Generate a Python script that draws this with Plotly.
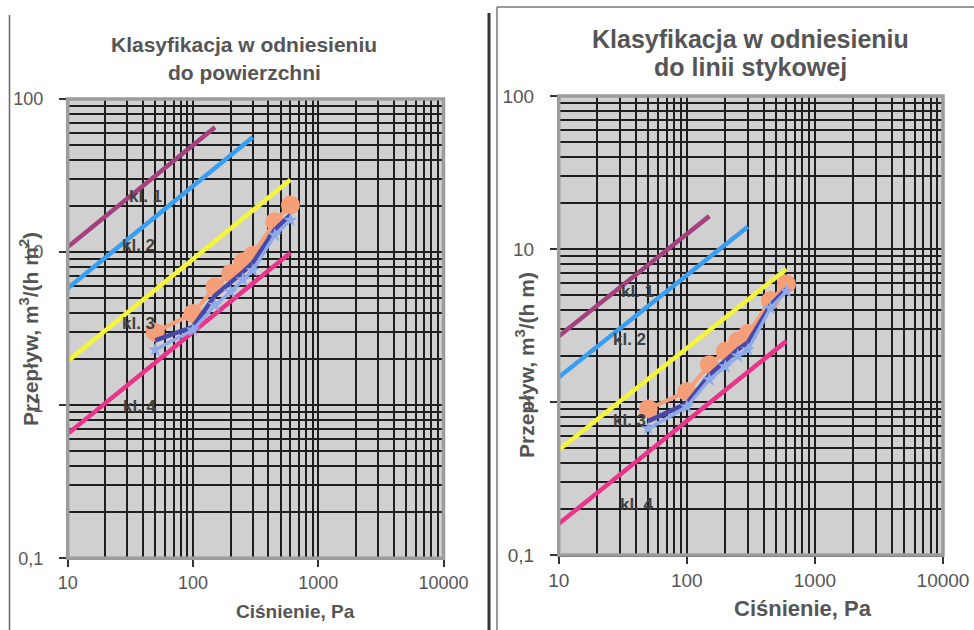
import math
import plotly.graph_objects as go

# ---------------- data ----------------
pressure = [50, 100, 150, 200, 250, 300, 450, 600]

# left chart: per area (m3/(h m2))
left_orange = [3.0, 3.97, 5.93, 7.26, 8.64, 9.55, 15.8, 20.3]
left_dark = [2.65, 3.25, 5.2, 6.3, 7.4, 8.5, 14.0, 17.5]
left_light = [2.3, 3.1, 4.5, 5.5, 6.6, 7.6, 12.9, 16.2]

# right chart: per joint length (m3/(h m))
right_orange = [0.9, 1.17, 1.75, 2.15, 2.5, 2.8, 4.6, 5.9]
right_dark = [0.75, 0.98, 1.5, 1.85, 2.2, 2.45, 4.3, 5.5]
right_light = [0.67, 0.93, 1.4, 1.7, 2.0, 2.2, 4.1, 5.3]

# class limit lines (end points)
class_names = ["kl. 1", "kl. 2", "kl. 3", "kl. 4"]
class_p = [[10, 150], [10, 300], [10, 600], [10, 600]]
left_class_q = [[10.8, 65.5], [5.8, 56.2], [1.94, 29.7], [0.65, 9.9]]
right_class_q = [[2.69, 16.4], [1.45, 14.0], [0.485, 7.4], [0.16, 2.5]]
class_colors = ["#A3407E", "#3A9EF0", "#F5F53A", "#E8348A"]

# label anchor positions (data units)
left_label_pos = [(41.5, 23.0), (36.5, 11.0), (36.5, 3.4), (37.9, 0.98)]
right_label_pos = [(41, 5.3), (36, 2.55), (36, 0.76), (41, 0.215)]

x_tickvals = [10, 100, 1000, 10000]
x_ticktext = ["10", "100", "1000", "10000"]
y_tickvals = [0.1, 1, 10, 100]
y_ticktext = ["0,1", "1", "10", "100"]
x_minor = [m * 10 ** e for e in range(1, 4) for m in range(2, 10)]
y_minor = [m * 10 ** e for e in range(-1, 2) for m in range(2, 10)]

titles_left = ["Klasyfikacja w odniesieniu", "do powierzchni"]
titles_right = ["Klasyfikacja w odniesieniu", "do linii stykowej"]
x_title = "Ciśnienie, Pa"
y_titles = ["Przepływ, m<sup>3</sup>/(h m<sup>2</sup>)",
            "Przepływ, m<sup>3</sup>/(h m)"]

FONT = "Liberation Sans, Arial, sans-serif"
W, H = 974, 630

fig = go.Figure()

def add_panel(xa, ya, class_q, orange, dark, light):
    for p, q, c in zip(class_p, class_q, class_colors):
        fig.add_trace(go.Scatter(x=p, y=q, mode="lines", xaxis=xa, yaxis=ya,
                                 line=dict(color=c, width=4.5), showlegend=False,
                                 hoverinfo="skip"))
    fig.add_trace(go.Scatter(x=pressure, y=orange, mode="lines+markers", xaxis=xa, yaxis=ya,
                             line=dict(color="#F59F78", width=4),
                             marker=dict(symbol="circle", size=19, color="#F59F78"),
                             showlegend=False))
    fig.add_trace(go.Scatter(x=pressure, y=dark, mode="lines", xaxis=xa, yaxis=ya,
                             line=dict(color="#4848A8", width=4.5), showlegend=False))
    fig.add_trace(go.Scatter(x=pressure, y=light, mode="lines+markers", xaxis=xa, yaxis=ya,
                             line=dict(color="#8EAAE8", width=3.5),
                             marker=dict(symbol="star", size=11, color="#8EAAE8"),
                             showlegend=False))

add_panel("x", "y", left_class_q, left_orange, left_dark, left_light)
add_panel("x2", "y2", right_class_q, right_orange, right_dark, right_light)

def px_x(v):
    return v / W

def px_y(v):
    return 1 - v / H

grid_col = "#1e1e1e"

def xaxis_cfg(x0, x1, anchor, fsize):
    return dict(type="log", range=[1, 4], domain=[px_x(x0), px_x(x1)], anchor=anchor,
                automargin=False,
                tickvals=x_tickvals, ticktext=x_ticktext, ticks="outside", ticklen=7,
                tickcolor="#333", tickwidth=1.5,
                showgrid=True, gridcolor=grid_col, gridwidth=1.8,
                minor=dict(tickvals=x_minor, showgrid=True, gridcolor=grid_col,
                           gridwidth=1.8, ticks=""),
                showline=True, linecolor="#333", linewidth=1.5,
                tickfont=dict(family=FONT, size=fsize, color="#555"),
                zeroline=False, fixedrange=True)

def yaxis_cfg(y_top, y_bot, anchor, fsize):
    return dict(type="log", range=[-1, 2], domain=[px_y(y_bot), px_y(y_top)], anchor=anchor,
                automargin=False,
                tickvals=y_tickvals, ticktext=y_ticktext, ticks="outside", ticklen=7,
                tickcolor="#333", tickwidth=1.5, ticklabelstandoff=12,
                showgrid=True, gridcolor=grid_col, gridwidth=1.8,
                minor=dict(tickvals=y_minor, showgrid=True, gridcolor=grid_col,
                           gridwidth=1.8, ticks=""),
                showline=True, linecolor="#333", linewidth=1.5,
                tickfont=dict(family=FONT, size=fsize, color="#555"),
                zeroline=False, fixedrange=True)

L = dict(x0=67.7, x1=443.5, yt=99, yb=558.3)
R = dict(x0=558.7, x1=943, yt=96, yb=555)

annotations = []
for (lx, ly), name in zip(left_label_pos, class_names):
    annotations.append(dict(x=math.log10(lx), y=math.log10(ly), xref="x", yref="y",
                            xanchor="center", yanchor="middle",
                            text="<b>" + name + "</b>", showarrow=False,
                            font=dict(family=FONT, size=17, color="#404040")))
for (lx, ly), name in zip(right_label_pos, class_names):
    annotations.append(dict(x=math.log10(lx), y=math.log10(ly), xref="x2", yref="y2",
                            xanchor="center", yanchor="middle",
                            text="<b>" + name + "</b>", showarrow=False,
                            font=dict(family=FONT, size=17, color="#404040")))

def paper_text(cx, cy, text, size, angle=0):
    return dict(x=px_x(cx), y=px_y(cy), xref="paper", yref="paper",
                xanchor="center", yanchor="middle", align="center",
                text=text, showarrow=False, textangle=angle,
                font=dict(family=FONT, size=size, color="#555"))

# titles (two lines each, tight spacing as in reference)
annotations.append(paper_text(244, 45, "<b>" + titles_left[0] + "</b>", 21))
annotations.append(paper_text(244, 72, "<b>" + titles_left[1] + "</b>", 21))
annotations.append(paper_text(750, 39, "<b>" + titles_right[0] + "</b>", 25))
annotations.append(paper_text(750, 67, "<b>" + titles_right[1] + "</b>", 25))
# x titles
annotations.append(paper_text(295, 611, "<b>" + x_title + "</b>", 19))
annotations.append(paper_text(803, 608, "<b>" + x_title + "</b>", 22))
# y titles
annotations.append(paper_text(29, 329, "<b>" + y_titles[0] + "</b>", 21, -90))
annotations.append(paper_text(525, 365, "<b>" + y_titles[1] + "</b>", 21, -90))

shapes = [
    # plot frames (gray border)
    dict(type="rect", xref="x domain", yref="y domain", x0=0, x1=1, y0=0, y1=1,
         line=dict(color="#9c9c9c", width=3.5), layer="above"),
    dict(type="rect", xref="x2 domain", yref="y2 domain", x0=0, x1=1, y0=0, y1=1,
         line=dict(color="#9c9c9c", width=3.5), layer="above"),
    # panel borders
    dict(type="line", xref="paper", yref="paper", x0=px_x(9.5), x1=px_x(9.5),
         y0=px_y(15), y1=0, line=dict(color="#666", width=1.5)),
    dict(type="line", xref="paper", yref="paper", x0=px_x(489), x1=px_x(489),
         y0=px_y(13), y1=0, line=dict(color="#333", width=3)),
    dict(type="line", xref="paper", yref="paper", x0=px_x(497), x1=px_x(497),
         y0=px_y(7), y1=0, line=dict(color="#777", width=1.5)),
    dict(type="line", xref="paper", yref="paper", x0=px_x(497), x1=1,
         y0=px_y(7), y1=px_y(7), line=dict(color="#777", width=1.5)),
]

fig.update_layout(
    width=W, height=H, autosize=False,
    margin=dict(l=0, r=0, t=0, b=0, autoexpand=False),
    paper_bgcolor="white", plot_bgcolor="#d0d0d0",
    showlegend=False,
    xaxis=xaxis_cfg(L["x0"], L["x1"], "y", 18),
    yaxis=yaxis_cfg(L["yt"], L["yb"], "x", 18),
    xaxis2=xaxis_cfg(R["x0"], R["x1"], "y2", 19),
    yaxis2=yaxis_cfg(R["yt"], R["yb"], "x2", 19),
    annotations=annotations,
    shapes=shapes,
)

fig.write_html("out.html", config={"displayModeBar": False},
               post_script="document.body.style.margin='0';document.body.style.padding='0';")
